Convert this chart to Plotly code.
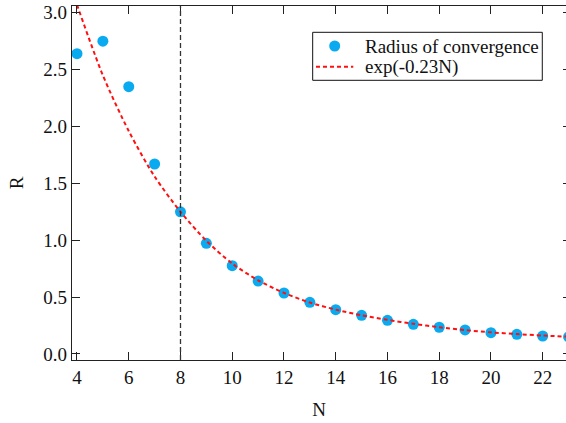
import plotly.graph_objects as go

# Radius of convergence per truncation order N
n_points = [4, 5, 6, 7, 8, 9, 10, 11, 12, 13, 14, 15, 16, 17, 18, 19, 20, 21, 22, 23]
radius = [2.64, 2.75, 2.35, 1.67, 1.25, 0.973, 0.776, 0.641, 0.536, 0.454, 0.389,
          0.340, 0.296, 0.261, 0.235, 0.211, 0.187, 0.173, 0.158, 0.15]

# Fitted decay curve, sampled at the same orders
fit_n = [4, 5, 6, 7, 8, 9, 10, 11, 12, 13, 14, 15, 16, 17, 18, 19, 20, 21, 22, 23]
fit_r = [3.07, 2.45, 1.96, 1.56, 1.25, 0.995, 0.795, 0.648, 0.537, 0.452, 0.39,
         0.34, 0.30, 0.265, 0.235, 0.21, 0.19, 0.175, 0.162, 0.152]

x_ticks = [4, 6, 8, 10, 12, 14, 16, 18, 20, 22]
y_ticks = [0.0, 0.5, 1.0, 1.5, 2.0, 2.5, 3.0]
cutoff_n = 8

series_names = ["Radius of convergence", "exp(-0.23N)"]
marker_color = "#0AAAF0"
fit_color = "#FF1010"

FONT = "Liberation Serif"
FS = 19

fig = go.Figure()

fig.add_trace(go.Scatter(
    x=n_points, y=radius, mode="markers", name=series_names[0], showlegend=False,
    marker=dict(color=marker_color, size=11, line=dict(width=0)),
))

fig.add_trace(go.Scatter(
    x=fit_n, y=fit_r, mode="lines", name=series_names[1], showlegend=False,
    line=dict(color=fit_color, width=2, dash="4px,3px", shape="spline", smoothing=0.8),
))

# right-hand tick marks only (no axis line)
fig.add_trace(go.Scatter(x=[None], y=[None], yaxis="y2", showlegend=False, hoverinfo="skip"))

# cutoff order marker
fig.add_shape(type="line", xref="x", yref="paper", x0=cutoff_n, x1=cutoff_n, y0=0, y1=1,
              line=dict(color="#333333", width=1.3, dash="5px,3px"))

# boxed key in the upper right
box_x0, box_x1, box_y0, box_y1 = 0.4872, 0.9520, 0.7901, 0.9257
row1_y, row2_y = 0.887, 0.8285
fig.add_shape(type="rect", xref="paper", yref="paper",
              x0=box_x0, x1=box_x1, y0=box_y0, y1=box_y1,
              line=dict(color="#111111", width=1), fillcolor="white", layer="above")
fig.add_shape(type="circle", xref="paper", yref="paper", xsizemode="pixel", ysizemode="pixel",
              xanchor=0.5318, yanchor=row1_y, x0=-5.5, x1=5.5, y0=-5.5, y1=5.5,
              line=dict(width=0), fillcolor=marker_color, layer="above")
fig.add_shape(type="line", xref="paper", yref="paper",
              x0=0.4939, x1=0.5694, y0=row2_y, y1=row2_y,
              line=dict(color=fit_color, width=2, dash="4px,3px"), layer="above")
for name, ry in zip(series_names, [row1_y, row2_y]):
    fig.add_annotation(text=name, xref="paper", yref="paper", x=0.5885, y=ry,
                       xanchor="left", yanchor="middle", showarrow=False,
                       font=dict(family=FONT, size=FS, color="#111111"))

axis_common = dict(
    showgrid=False, zeroline=False, showline=True, linecolor="#222222", linewidth=1.3,
    ticks="inside", ticklen=8, tickwidth=1.2, tickcolor="#222222",
    tickfont=dict(family=FONT, size=FS, color="#111111"),
)

fig.update_layout(
    width=566, height=423,
    margin=dict(l=72, r=0, t=6, b=63),
    paper_bgcolor="white", plot_bgcolor="white",
    font=dict(family=FONT, size=FS, color="#111111"),
    showlegend=False,
    xaxis=dict(
        range=[3.807, 22.90], tickvals=x_ticks, ticktext=[str(v) for v in x_ticks],
        mirror="ticks", ticklabelstandoff=0,
        title=dict(text="N", font=dict(family=FONT, size=FS), standoff=15),
        **axis_common,
    ),
    yaxis=dict(
        range=[-0.053, 3.059], tickvals=y_ticks, ticktext=[f"{v:.1f}" for v in y_ticks],
        title=dict(text="R", font=dict(family=FONT, size=FS), standoff=14),
        **axis_common,
    ),
    yaxis2=dict(
        overlaying="y", side="right", matches="y", showticklabels=False,
        showgrid=False, zeroline=False, showline=False,
        ticks="inside", ticklen=3, tickwidth=1.2, tickcolor="#222222",
        tickvals=y_ticks,
    ),
)

fig.write_html("out.html")
